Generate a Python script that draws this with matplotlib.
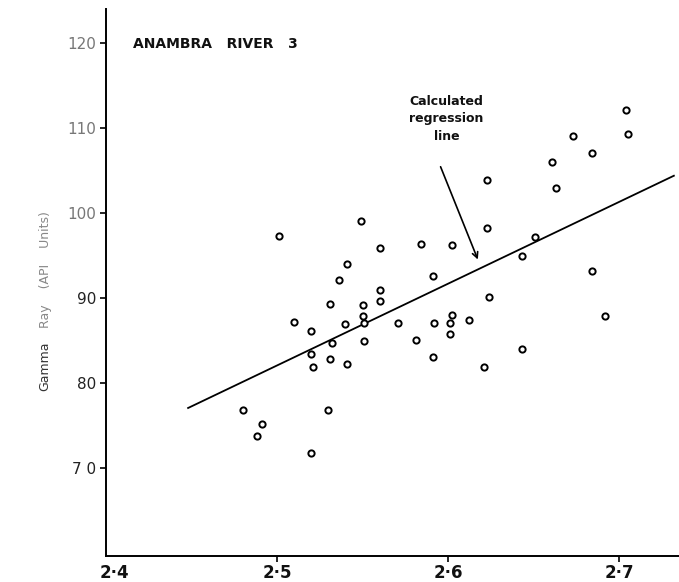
import matplotlib
matplotlib.use("Agg")
import matplotlib.pyplot as plt
import matplotlib.transforms as mtransforms

# ---- data ----
density = [2.501, 2.549, 2.560, 2.541, 2.536, 2.560, 2.531, 2.550, 2.560, 2.510,
           2.550, 2.540, 2.551, 2.520, 2.532, 2.551, 2.520, 2.531, 2.521, 2.541,
           2.480, 2.491, 2.488, 2.530, 2.520, 2.623, 2.623, 2.584, 2.602, 2.651,
           2.643, 2.591, 2.624, 2.602, 2.571, 2.592, 2.601, 2.612, 2.601, 2.581,
           2.643, 2.591, 2.621, 2.704, 2.705, 2.673, 2.684, 2.661, 2.663, 2.684,
           2.692]
gamma = [97.3, 99.1, 95.9, 94.0, 92.1, 91.0, 89.3, 89.2, 89.7, 87.2,
         87.9, 87.0, 87.1, 86.1, 84.7, 85.0, 83.4, 82.9, 81.9, 82.3,
         76.9, 75.2, 73.8, 76.9, 71.8, 103.9, 98.3, 96.4, 96.3, 97.2,
         95.0, 92.6, 90.1, 88.0, 87.1, 87.1, 87.1, 87.4, 85.8, 85.1,
         84.0, 83.1, 81.9, 112.1, 109.3, 109.1, 107.1, 106.0, 103.0, 93.2,
         87.9]
reg_x = [2.448, 2.732]
reg_y = [77.1, 104.4]

x_ticks = [2.4, 2.5, 2.6, 2.7]
x_ticklabels = ["2·4", "2·5", "2·6", "2·7"]
y_ticks = [70, 80, 90, 100, 110, 120]
y_ticklabels = ["7 0", "80", "90", "100", "110", "120"]

title_text = "ANAMBRA   RIVER   3"
ylabel_dark = "Gamma"
ylabel_light = "Ray    (API    Units)"
annot_text = "Calculated\nregression\nline"

# ---- figure ----
fig = plt.figure(figsize=(6.79, 5.82), dpi=100)
ax = fig.add_axes([106 / 679, 26 / 582, 573 / 679, 547 / 582])
ax.set_xlim(2.4, 2.735)
ax.set_ylim(59.7, 124.0)

ax.plot(reg_x, reg_y, color="black", lw=1.3, zorder=2)
ax.plot(density, gamma, linestyle="none", marker="o", markersize=4.5,
        markerfacecolor="white", markeredgecolor="black", markeredgewidth=1.4,
        zorder=3)

for s in ("top", "right"):
    ax.spines[s].set_visible(False)
for s in ("left", "bottom"):
    ax.spines[s].set_linewidth(1.4)

ax.set_xticks(x_ticks)
ax.set_xticklabels(x_ticklabels, fontsize=12, fontweight="bold", color="#111111")
ax.set_yticks(y_ticks)
ax.set_yticklabels(y_ticklabels, fontsize=11, color="#222222")
ylab_colors = ["#222222", "#222222", "#222222", "#777777", "#777777", "#777777"]
for lab, c in zip(ax.get_yticklabels(), ylab_colors):
    lab.set_color(c)
ax.tick_params(axis="x", direction="out", length=4, width=1.2, pad=2)
ax.tick_params(axis="y", direction="out", length=4, width=1.2, pad=3)
ax.xaxis.get_major_ticks()[0].tick1line.set_visible(False)
first = ax.get_xticklabels()[0]
first.set_transform(first.get_transform() +
                    mtransforms.ScaledTranslation(8 / 100, 0, fig.dpi_scale_trans))

fig.text(45 / 679, 1 - 366 / 582, ylabel_dark, rotation=90, ha="center",
         va="center", fontsize=9, color="#333333")
fig.text(45 / 679, 1 - 270 / 582, ylabel_light, rotation=90, ha="center",
         va="center", fontsize=9, color="#888888")

ax.text(2.416, 119.9, title_text, fontsize=10, fontweight="bold",
        ha="left", va="center", color="#111111")

ax.text(2.599, 113.9, annot_text, fontsize=9, fontweight="bold",
        ha="center", va="top", linespacing=1.45, color="#111111")
ax.annotate("", xy=(2.618, 94.25), xytext=(2.595, 105.76),
            arrowprops=dict(arrowstyle="->", color="black", lw=1.2,
                            mutation_scale=10))

fig.savefig("out.png", dpi=100)
